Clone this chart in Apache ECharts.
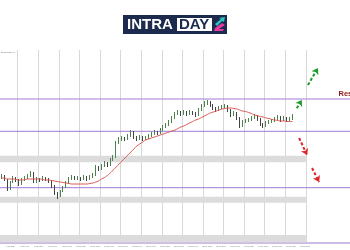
<!DOCTYPE html>
<html>
<head>
<meta charset="utf-8">
<script src="https://cdn.jsdelivr.net/npm/echarts@6/dist/echarts.min.js"></script>
<style>
  html, body { margin: 0; padding: 0; background: #ffffff; }
  #chart { width: 350px; height: 250px; }
</style>
</head>
<body>
<div id="chart"></div>
<script>
// ---- data ----
// candles: [open, close, low, high]
const candles = [
  [66,67,64,69],[67,63,62,68],[63,54,52,64],[54,61,53,62],[61,65,60,67],
  [65,63,61,66],[63,59,57,64],[59,63,58,65],[63,65,62,67],[65,67,64,69],
  [67,70,66,72],[70,61,60,71],[61,64,60,66],[64,63,61,65],[63,65,62,67],
  [65,64,62,66],[64,62,60,65],[62,57,55,63],[57,50,48,58],[50,47,44,51],
  [47,52,46,53],[52,56,51,57],[56,60,55,62],[60,65,59,66],[65,66,63,68],
  [66,64,63,67],[64,65,63,67],[65,64,62,66],[64,66,63,68],[66,64,62,67],
  [64,66,63,68],[66,68,65,70],[68,76,67,78],[76,74,72,77],[74,77,73,79],
  [77,80,76,82],[80,78,76,81],[78,83,77,85],[83,86,82,88],[86,100,85,102],
  [100,104,99,106],[104,105,102,107],[105,104,102,106],[104,107,103,109],[107,111,106,113],
  [111,106,104,112],[106,104,102,107],[104,106,103,108],[106,104,102,107],[104,105,103,107],
  [105,107,104,109],[107,109,106,111],[109,111,108,113],[111,110,108,112],[110,113,109,115],
  [113,116,112,118],[116,118,115,120],[118,121,117,123],[121,125,120,127],[125,129,124,131],
  [129,131,128,133],[131,129,127,132],[129,131,128,133],[131,129,127,132],[129,131,128,133],
  [131,130,128,132],[130,128,126,131],[128,133,127,135],[133,137,132,139],[137,140,136,142],
  [140,141,138,143],[141,138,136,142],[138,135,133,139],[135,133,131,136],[133,135,132,137],
  [135,136,134,138],[136,137,135,139],[137,133,131,138],[133,128,126,134],[128,130,127,132],
  [130,125,123,131],[125,117,115,126],[117,121,116,123],[121,122,120,124],[122,123,121,125],
  [123,125,122,127],[125,127,124,129],[127,124,122,128],[124,119,117,125],[119,117,115,120],
  [117,120,116,122],[120,121,119,123],[121,122,120,124],[122,124,121,126],[124,126,123,128],
  [126,123,121,127],[123,125,122,127],[125,123,121,126],[123,124,122,126],[124,127,123,129]
];
const maValues = [
  65,65,64,64,64,63.5,63,63,63.5,64,
  64,64,64,64,63.5,63,63,62.5,62,61.5,
  61,60.5,60,59.5,59,59,59,59,59,59,
  59.5,60,61,62,64,65.5,67.5,70,73,76,
  79,82,85,88,91,94,97,99,101,103,
  104,105,106,107,108,109,110,111,112,113,
  114.5,116,117,118.5,120,121.5,123,124,125.5,127,
  128.5,130,131,132,133,134,134.5,135,135,134.5,
  134,133,132,131.5,130.5,129.5,128,127.5,126.5,126,
  125,124.5,123.5,123,122.5,122,122,121.5,121.5,121.5
];
const slotCount = 119;            // time slots across the full width
const categories = Array.from({length: slotCount}, (_, i) => 'T' + i);
const levels = [144, 111.7, 55.3];               // purple support / resistance lines
const bands = [[80.7, 87.3], [40.3, 46.3], [0.7, 8]]; // grey zones
const bandEnd = 104;                              // zones stop at the last bar slot
const upArrows = [[[100.9,134.7],[102.6,143]], [[104.7,158],[108.1,175]]];
const downArrows = [[[101.7,105],[104.4,88]], [[106.1,75],[108.5,61]]];
const tickLabels = ["6 Mar 2025","7 Mar 04:00","7 Mar 12:00","7 Mar 20:00","10 Mar 04:00","10 Mar 12:00",
  "10 Mar 20:00","11 Mar 04:00","11 Mar 12:00","11 Mar 20:00","12 Mar 04:00","12 Mar 12:00","12 Mar 20:00",
  "13 Mar 04:00","13 Mar 12:00","13 Mar 20:00","14 Mar 04:00","14 Mar 12:00","14 Mar 20:00","17 Mar 04:00",
  "17 Mar 12:00","17 Mar 20:00"];

const chart = echarts.init(document.getElementById('chart'), null, {renderer: 'canvas'});
const purple = '#a07ad8';

const levelSeries = levels.map((v, k) => ({
  name: 'level' + k, type: 'line', xAxisIndex: 1, z: 2, silent: true,
  data: [[0, v], [slotCount, v]],
  showSymbol: false, symbol: 'none', color: purple,
  lineStyle: { color: purple, width: 1 }
}));

const option = {
  animation: false,
  backgroundColor: '#ffffff',
  grid: { left: 0, right: 0, top: 50, bottom: 7, containLabel: false },
  xAxis: [
    {
      type: 'category', data: categories, position: 'top', boundaryGap: true,
      axisLine: { show: true, lineStyle: { color: '#b0b0b0', width: 1 } },
      axisTick: { show: false }, axisLabel: { show: false },
      splitLine: { show: true, interval: function (i) { return i % 7 === 6 && i <= bandEnd; },
                   lineStyle: { color: '#d8d8d8', width: 1 } }
    },
    {
      type: 'value', min: 0, max: slotCount, interval: slotCount / 25, position: 'bottom',
      axisLine: { show: true, onZero: false, lineStyle: { color: '#cdbde4', width: 2 } },
      axisTick: { show: false }, splitLine: { show: false },
      axisLabel: {
        show: true, fontSize: 1.7, color: '#777', align: 'left', margin: 3,
        padding: [0, 0, 0, 6], showMinLabel: true, showMaxLabel: false, hideOverlap: false,
        formatter: function (v, idx) { return tickLabels[idx] || ''; }
      }
    }
  ],
  yAxis: { type: 'value', min: 0, max: 193, show: false, splitLine: { show: false } },
  graphic: [
    { type: 'rect', left: 123, top: 15, shape: { width: 104, height: 19 }, style: { fill: '#1c2b4d' } },
    { type: 'text', left: 127, top: 17.5, style: { text: 'INTRA', fill: '#ffffff', font: 'bold 15px "Liberation Sans", Arial, sans-serif' } },
    { type: 'rect', left: 177, top: 18, shape: { width: 35, height: 13 }, style: { fill: '#ffffff' } },
    { type: 'text', left: 179, top: 17.5, style: { text: 'DAY', fill: '#1c2b4d', font: 'bold 15px "Liberation Sans", Arial, sans-serif' } },
    { type: 'polygon', shape: { points: [[215,24],[221,19],[219,18],[225,17],[224,22],[222,21],[217,26]] }, style: { fill: '#2ec4c4' } },
    { type: 'polygon', shape: { points: [[215,28],[222,23],[225,25],[219,29],[224,29],[223,31],[214,31]] }, style: { fill: '#e43aa0' } },
    { type: 'text', left: 1, top: 51, style: { text: 'EURUSD,H4', fill: '#777', font: '2.5px sans-serif' } },
    { type: 'text', left: 338.5, top: 90, style: { text: 'Resistance', fill: '#8e1616', font: 'bold 7.5px "Liberation Sans", Arial, sans-serif' } }
  ],
  series: [
    {
      name: 'zones', type: 'line', xAxisIndex: 1, data: [], z: 1, silent: true,
      markArea: {
        silent: true, itemStyle: { color: '#dcdcdc' },
        data: bands.map(b => [{ xAxis: 0, yAxis: b[1] }, { xAxis: bandEnd, yAxis: b[0] }])
      }
    },
    ...levelSeries,
    {
      name: 'price', type: 'candlestick', xAxisIndex: 0, data: candles, z: 3,
      barWidth: 1,
      itemStyle: { color: '#4a844a', color0: '#444444', borderColor: '#4a844a', borderColor0: '#444444', borderWidth: 1 }
    },
    {
      name: 'MA', type: 'line', xAxisIndex: 0, data: maValues, z: 4, smooth: true,
      showSymbol: false, lineStyle: { color: '#d9534f', width: 1 }
    },
    {
      name: 'up', type: 'line', xAxisIndex: 1, data: [], z: 5, color: '#1f9a2f',
      markLine: {
        silent: true, symbol: ['none', 'arrow'], symbolSize: 6, label: { show: false },
        lineStyle: { color: '#1f9a2f', width: 2, type: [3, 2] },
        data: upArrows.map(a => [{ coord: a[0] }, { coord: a[1] }])
      }
    },
    {
      name: 'down', type: 'line', xAxisIndex: 1, data: [], z: 5, color: '#e02424',
      markLine: {
        silent: true, symbol: ['none', 'arrow'], symbolSize: 6, label: { show: false },
        lineStyle: { color: '#e02424', width: 2, type: [3, 2] },
        data: downArrows.map(a => [{ coord: a[0] }, { coord: a[1] }])
      }
    }
  ]
};
chart.setOption(option);
</script>
</body>
</html>
